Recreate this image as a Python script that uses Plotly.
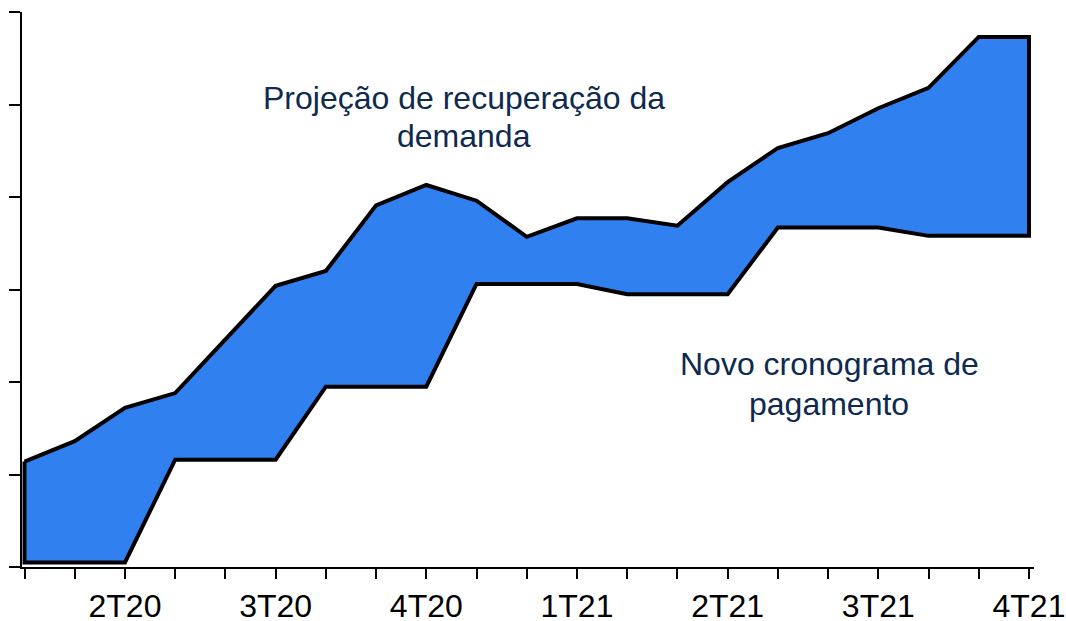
import plotly.graph_objects as go

# Quarter-step positions (21 points), labels every 3rd point
periods = list(range(21))
tick_labels = ["", "", "2T20", "", "", "3T20", "", "", "4T20", "", "", "1T21",
               "", "", "2T21", "", "", "3T21", "", "", "4T21"]

# Upper boundary: demand recovery projection
demanda = [1.14, 1.36, 1.72, 1.88, 2.46, 3.04, 3.20, 3.91, 4.13, 3.96, 3.57, 3.77,
           3.77, 3.69, 4.16, 4.53, 4.69, 4.96, 5.18, 5.73, 5.73]
# Lower boundary: new payment schedule
pagamento = [0.05, 0.05, 0.05, 1.16, 1.16, 1.16, 1.95, 1.95, 1.95, 3.06, 3.06, 3.06,
             2.95, 2.95, 2.95, 3.67, 3.67, 3.67, 3.58, 3.58, 3.58]

label_demanda = ["Projeção de recuperação da", "demanda"]
label_pagamento = ["Novo cronograma de", "pagamento"]

xs = periods + periods[::-1] + [periods[0]]
ys = demanda + pagamento[::-1] + [demanda[0]]

FONT = "Arial, Liberation Sans, sans-serif"
TEXT_COLOR = "#0E2A4F"

fig = go.Figure()
fig.add_trace(go.Scatter(
    x=xs, y=ys, mode="lines", fill="toself",
    fillcolor="#3180F0",
    line=dict(color="#000000", width=4),
    hoverinfo="skip", showlegend=False,
))

for txt, shift in zip(label_demanda, [19, -19]):
    fig.add_annotation(x=8.75, y=4.86, xref="x", yref="y", yshift=shift,
                       text=txt, showarrow=False,
                       font=dict(family=FONT, size=32, color=TEXT_COLOR))
for txt, shift in zip(label_pagamento, [20, -20]):
    fig.add_annotation(x=16.02, y=1.98, xref="x", yref="y", yshift=shift,
                       text=txt, showarrow=False,
                       font=dict(family=FONT, size=32, color=TEXT_COLOR))

fig.update_layout(
    width=1066, height=621,
    margin=dict(l=22, r=32, t=12, b=54, autoexpand=False),
    paper_bgcolor="white", plot_bgcolor="white",
    font=dict(family=FONT, size=32, color="#000000"),
)
fig.update_xaxes(
    range=[-0.05, 20.1], tickmode="array", tickvals=periods, ticktext=tick_labels,
    showline=True, linecolor="#000000", linewidth=2,
    ticks="outside", ticklen=10, tickwidth=2, tickcolor="#000000",
    showgrid=False, zeroline=False, automargin=False,
    tickfont=dict(family=FONT, size=32, color="#000000"),
)
fig.update_yaxes(
    range=[0, 6], tickmode="array", tickvals=[0, 1, 2, 3, 4, 5, 6],
    ticktext=[""] * 7,
    showline=True, linecolor="#000000", linewidth=2,
    ticks="outside", ticklen=11, tickwidth=2, tickcolor="#000000",
    showgrid=False, zeroline=False, automargin=False,
)

# remove the default 8px page margin so the figure fills the window exactly
fig.write_html(
    "out.html",
    config={"displayModeBar": False, "staticPlot": True},
    post_script="document.body.style.margin='0';document.body.style.overflow='hidden';",
)
